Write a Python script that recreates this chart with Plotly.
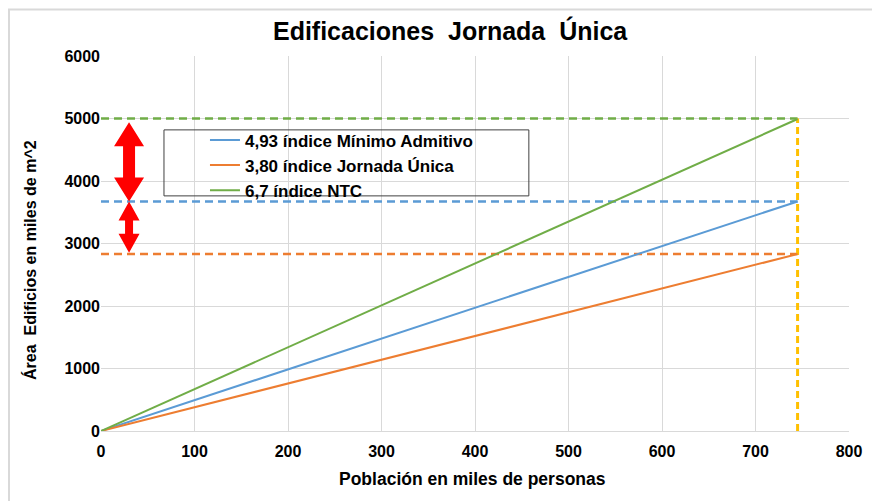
import plotly.graph_objects as go

# ---- data ----
poblacion = [0, 745]                      # miles de personas
area_minimo = [0, 3673]                   # 4,93 índice Mínimo Admitivo
area_jornada = [0, 2831]                  # 3,80 índice Jornada Única
area_ntc = [0, 4992]                      # 6,7 índice NTC
nivel_ntc = 5000
nivel_minimo = 3673
nivel_jornada = 2831
pob_max = 745
arrow_x = 30

names = ["4,93 índice Mínimo Admitivo", "3,80 índice Jornada Única", "6,7 índice NTC"]
colors = ["#5B9BD5", "#ED7D31", "#70AD47"]
series = [area_minimo, area_jornada, area_ntc]
levels = [nivel_minimo, nivel_jornada, nivel_ntc]

FONT = "Liberation Sans, Arial, sans-serif"

fig = go.Figure()

# dashed guide lines
for lvl, c in zip(levels, colors):
    fig.add_trace(go.Scatter(x=[0, pob_max], y=[lvl, lvl], mode="lines",
                             line=dict(color=c, width=2.5, dash="8px,5px"),
                             showlegend=False, hoverinfo="skip"))
fig.add_trace(go.Scatter(x=[pob_max, pob_max], y=[0, nivel_ntc], mode="lines",
                         line=dict(color="#FFC000", width=3, dash="7px,4px"),
                         showlegend=False, hoverinfo="skip"))

# main lines
for n, c, s in zip(names, colors, series):
    fig.add_trace(go.Scatter(x=poblacion, y=s, mode="lines", name=n,
                             line=dict(color=c, width=2)))

# double-headed arrows (pixel widths, data heights)
def arrow_path(y_top, y_bot, head_len_px, head_hw, shaft_hw):
    u = 6000 / 375.0
    hl = head_len_px * u
    pts = [(0, y_top), (head_hw, y_top - hl), (shaft_hw, y_top - hl),
           (shaft_hw, y_bot + hl), (head_hw, y_bot + hl), (0, y_bot),
           (-head_hw, y_bot + hl), (-shaft_hw, y_bot + hl),
           (-shaft_hw, y_top - hl), (-head_hw, y_top - hl)]
    return "M " + " L ".join(f"{x},{y}" for x, y in pts) + " Z"

shapes = [
    dict(type="path", xsizemode="pixel", xanchor=arrow_x, xref="x", yref="y",
         path=arrow_path(nivel_ntc - 60, nivel_minimo, 24, 15, 6),
         fillcolor="#FF0000", line=dict(width=0), layer="above"),
    dict(type="path", xsizemode="pixel", xanchor=arrow_x, xref="x", yref="y",
         path=arrow_path(nivel_minimo, nivel_jornada + 20, 19, 10.5, 4),
         fillcolor="#FF0000", line=dict(width=0), layer="above"),
    # legend box
    dict(type="rect", xref="paper", yref="paper", x0=0.0842, x1=0.572, y0=0.627, y1=0.803,
         line=dict(color="#404040", width=1), fillcolor="rgba(0,0,0,0)", layer="above"),
    # outer chart frame (left + top)
    dict(type="path", xref="paper", yref="paper",
         path="M -0.123,-0.3 L -0.123,1.124 L 1.2,1.124",
         line=dict(color="#D9D9D9", width=2)),
]

annotations = [
    dict(text="Área  Edificios en miles de m^2", xref="paper", yref="paper",
         x=-0.0949, y=0.456, textangle=-90, showarrow=False,
         font=dict(family=FONT, size=16, color="#000000"), xanchor="center", yanchor="middle"),
    dict(text="Población en miles de personas", xref="paper", yref="paper",
         x=0.496, y=-0.128, showarrow=False,
         font=dict(family=FONT, size=17.5, color="#000000"), xanchor="center", yanchor="middle"),
]

fig.update_layout(
    width=872, height=493,
    margin=dict(l=93, r=31, t=48, b=70),
    paper_bgcolor="white", plot_bgcolor="white",
    font=dict(family=FONT, color="#000000"),
    title=dict(text="<b>Edificaciones\u00a0\u00a0Jornada\u00a0\u00a0Única</b>", x=0.507, xanchor="center",
               y=0.953, yanchor="middle", font=dict(family=FONT, size=25, color="#000000")),
    showlegend=True,
    legend=dict(x=0.139, y=0.823, xanchor="left", yanchor="top", bgcolor="rgba(0,0,0,0)",
                borderwidth=0, font=dict(family=FONT, size=17, color="#000000"),
                tracegroupgap=0),
    shapes=shapes,
    annotations=annotations,
)
fig.update_xaxes(range=[0, 800], dtick=100, showgrid=True, gridcolor="#D9D9D9", gridwidth=1,
                 zeroline=False, showline=True, linecolor="#D9D9D9", linewidth=1,
                 ticks="", tickfont=dict(family=FONT, size=16, color="#000000"),
                 ticklabelstandoff=6)
fig.update_yaxes(range=[0, 6000], dtick=1000, showgrid=True, gridcolor="#D9D9D9", gridwidth=1,
                 zeroline=False, showline=False,
                 ticks="", tickfont=dict(family=FONT, size=16, color="#000000"))

# bold text for legend/ticks
fig.update_layout(legend_font_weight="bold")
fig.update_xaxes(tickfont_weight="bold")
fig.update_yaxes(tickfont_weight="bold")
for a in fig.layout.annotations:
    a.font.weight = "bold"

fig.write_html("out.html")
